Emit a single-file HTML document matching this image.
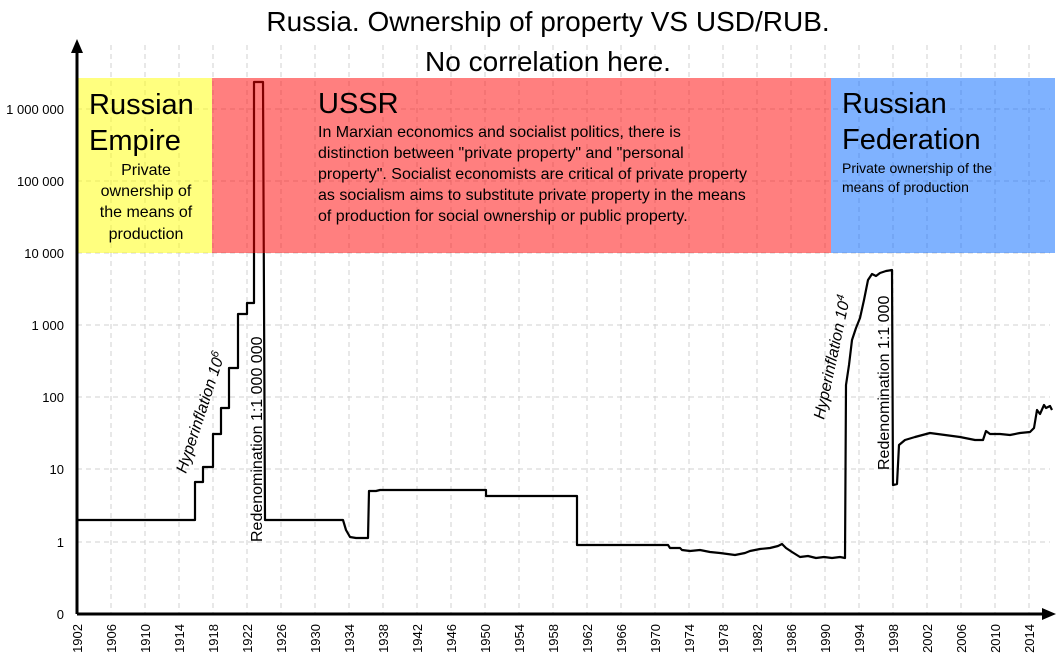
<!DOCTYPE html>
<html><head><meta charset="utf-8"><style>
body{margin:0;background:#fff}
svg{display:block;font-family:"Liberation Sans",Arial,sans-serif}
</style></head><body>
<svg width="1058" height="660" viewBox="0 0 1058 660" xmlns="http://www.w3.org/2000/svg">
<rect width="1058" height="660" fill="#fff"/>
<g stroke="#d0d0d0" stroke-width="1" stroke-dasharray="5,4">
<line x1="77" y1="542" x2="1050" y2="542"/><line x1="77" y1="469" x2="1050" y2="469"/>
<line x1="77" y1="397" x2="1050" y2="397"/><line x1="77" y1="325" x2="1050" y2="325"/>
<line x1="77" y1="253" x2="1050" y2="253"/><line x1="77" y1="181" x2="1050" y2="181"/>
<line x1="77" y1="109" x2="1050" y2="109"/>
<line x1="111" y1="45" x2="111" y2="614"/><line x1="145" y1="45" x2="145" y2="614"/>
<line x1="179" y1="45" x2="179" y2="614"/><line x1="213" y1="45" x2="213" y2="614"/>
<line x1="247" y1="45" x2="247" y2="614"/><line x1="281" y1="45" x2="281" y2="614"/>
<line x1="315" y1="45" x2="315" y2="614"/><line x1="349" y1="45" x2="349" y2="614"/>
<line x1="383" y1="45" x2="383" y2="614"/><line x1="417" y1="45" x2="417" y2="614"/>
<line x1="451" y1="45" x2="451" y2="614"/><line x1="485" y1="45" x2="485" y2="614"/>
<line x1="519" y1="45" x2="519" y2="614"/><line x1="553" y1="45" x2="553" y2="614"/>
<line x1="587" y1="45" x2="587" y2="614"/><line x1="621" y1="45" x2="621" y2="614"/>
<line x1="655" y1="45" x2="655" y2="614"/><line x1="689" y1="45" x2="689" y2="614"/>
<line x1="723" y1="45" x2="723" y2="614"/><line x1="757" y1="45" x2="757" y2="614"/>
<line x1="791" y1="45" x2="791" y2="614"/><line x1="825" y1="45" x2="825" y2="614"/>
<line x1="859" y1="45" x2="859" y2="614"/><line x1="893" y1="45" x2="893" y2="614"/>
<line x1="927" y1="45" x2="927" y2="614"/><line x1="961" y1="45" x2="961" y2="614"/>
<line x1="995" y1="45" x2="995" y2="614"/><line x1="1029" y1="45" x2="1029" y2="614"/>
</g>
<path d="M77,520 H195 V482 H203 V467 H213 V434 H221 V408 H229 V368 H238 V314 H247 V303 H254 V82 H263 L265,520 H343 L346,530 L350,537 L356,538 L368,538 L369,491 H376 L380,490 H486 V496 H577 V545 H668 L670,548 H680 L682,550 L690,551 L700,550 L710,552 L720,553 L735,555 L745,553 L750,551 L760,549 L770,548 L778,546 L782,544 L786,548 L792,552 L800,557 L808,556 L816,558 L824,557 L832,558 L840,557 L845,558 L846,385 L849,365 L852,340 L856,328 L860,318 L864,300 L868,280 L872,274 L876,276 L880,273 L886,271 L892,270 L893,485 L897,484 L899,445 L905,440 L915,437 L930,433 L945,435 L960,437 L975,440 L983,440 L986,431 L990,434 L1000,434 L1010,435 L1020,433 L1030,432 L1034,428 L1037,410 L1040,414 L1044,405 L1046,408 L1050,406 L1052,410"
 fill="none" stroke="#000" stroke-width="2.2" stroke-linejoin="round"/>
<rect x="78" y="78" width="134" height="175" fill="#ffff00" opacity="0.5"/>
<rect x="212" y="78" width="619" height="175" fill="#ff0000" opacity="0.5"/>
<rect x="831" y="78" width="224" height="175" fill="#0066ff" opacity="0.5"/>
<line x1="77" y1="614" x2="1044" y2="614" stroke="#000" stroke-width="3"/>
<polygon points="1056,614 1042,608 1042,620" fill="#000"/>
<line x1="77" y1="614" x2="77" y2="50" stroke="#000" stroke-width="3"/>
<polygon points="77,39 71,53 83,53" fill="#000"/>
<g font-size="13" fill="#000" text-anchor="end">
<text x="64" y="619">0</text><text x="64" y="547">1</text><text x="64" y="474">10</text>
<text x="64" y="402">100</text><text x="64" y="330">1 000</text><text x="64" y="258">10 000</text>
<text x="64" y="186">100 000</text><text x="64" y="114">1 000 000</text>
</g>
<g font-size="13" fill="#000" text-anchor="end">
<text transform="translate(82,624) rotate(-90)">1902</text><text transform="translate(116,624) rotate(-90)">1906</text>
<text transform="translate(150,624) rotate(-90)">1910</text><text transform="translate(184,624) rotate(-90)">1914</text>
<text transform="translate(218,624) rotate(-90)">1918</text><text transform="translate(252,624) rotate(-90)">1922</text>
<text transform="translate(286,624) rotate(-90)">1926</text><text transform="translate(320,624) rotate(-90)">1930</text>
<text transform="translate(354,624) rotate(-90)">1934</text><text transform="translate(388,624) rotate(-90)">1938</text>
<text transform="translate(422,624) rotate(-90)">1942</text><text transform="translate(456,624) rotate(-90)">1946</text>
<text transform="translate(490,624) rotate(-90)">1950</text><text transform="translate(524,624) rotate(-90)">1954</text>
<text transform="translate(558,624) rotate(-90)">1958</text><text transform="translate(592,624) rotate(-90)">1962</text>
<text transform="translate(626,624) rotate(-90)">1966</text><text transform="translate(660,624) rotate(-90)">1970</text>
<text transform="translate(694,624) rotate(-90)">1974</text><text transform="translate(728,624) rotate(-90)">1978</text>
<text transform="translate(762,624) rotate(-90)">1982</text><text transform="translate(796,624) rotate(-90)">1986</text>
<text transform="translate(830,624) rotate(-90)">1990</text><text transform="translate(864,624) rotate(-90)">1994</text>
<text transform="translate(898,624) rotate(-90)">1998</text><text transform="translate(932,624) rotate(-90)">2002</text>
<text transform="translate(966,624) rotate(-90)">2006</text><text transform="translate(1000,624) rotate(-90)">2010</text>
<text transform="translate(1034,624) rotate(-90)">2014</text>
</g>
<g font-size="28" fill="#000" text-anchor="middle">
<text x="548" y="31">Russia. Ownership of property VS USD/RUB.</text>
<text x="548" y="71">No correlation here.</text>
</g>
<g font-size="29" fill="#000"><text x="89" y="114">Russian</text><text x="89" y="150">Empire</text></g>
<g font-size="16" fill="#000" text-anchor="middle">
<text x="146" y="175">Private</text><text x="146" y="196">ownership of</text>
<text x="146" y="217">the means of</text><text x="146" y="239">production</text>
</g>
<text x="318" y="113" font-size="29">USSR</text>
<g font-size="16" fill="#000">
<text x="318" y="137">In Marxian economics and socialist politics, there is</text>
<text x="318" y="158">distinction  between "private property" and "personal</text>
<text x="318" y="179">property". Socialist economists are critical of private property</text>
<text x="318" y="200">as socialism aims to substitute private property in the means</text>
<text x="318" y="221">of production for social ownership or public property.</text>
</g>
<g font-size="29" fill="#000"><text x="842" y="113">Russian</text><text x="842" y="149">Federation</text></g>
<g font-size="14" fill="#000"><text x="842" y="173">Private  ownership  of the</text><text x="842" y="192">means  of production</text></g>
<g font-size="16" fill="#000">
<text transform="translate(186,474) rotate(-72)" font-style="italic">Hyperinflation  10<tspan font-size="11" dy="-6">6</tspan></text>
<text transform="translate(262,542) rotate(-90)">Redenomination  1:1 000 000</text>
<text transform="translate(824,420) rotate(-78)" font-style="italic">Hyperinflation  10<tspan font-size="11" dy="-6">4</tspan></text>
<text transform="translate(889,470) rotate(-90)">Redenomination  1:1 000</text>
</g>
</svg>
</body></html>
